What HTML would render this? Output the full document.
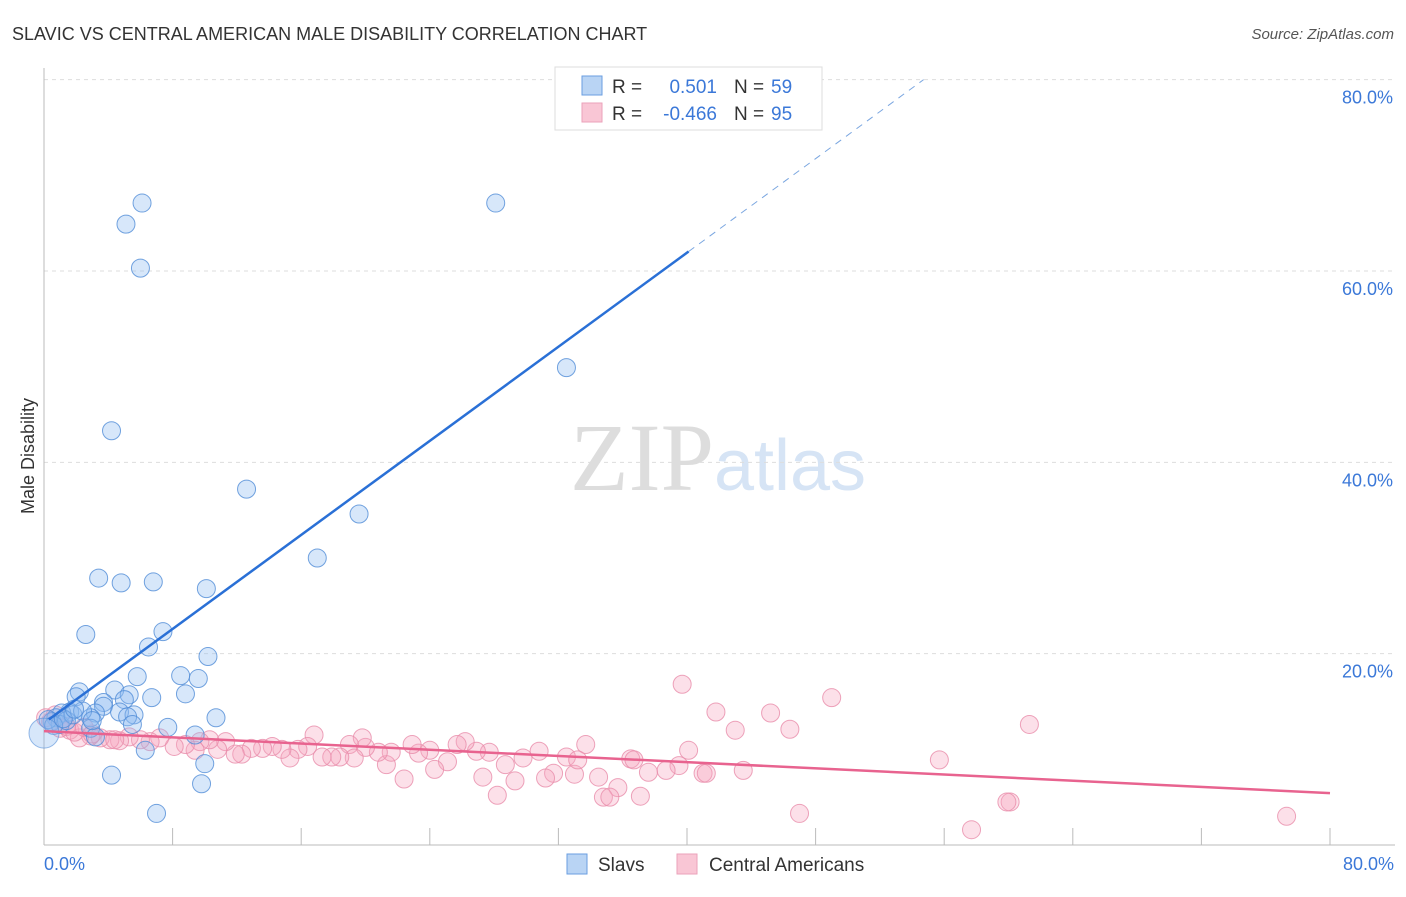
<!DOCTYPE html>
<html><head><meta charset="utf-8"><style>
body{margin:0;background:#fff;font-family:"Liberation Sans",sans-serif}
svg text{font-family:"Liberation Sans",sans-serif}
</style></head><body>
<svg width="1406" height="892" xmlns="http://www.w3.org/2000/svg">
<text x="12" y="40" font-size="18" fill="#333">SLAVIC VS CENTRAL AMERICAN MALE DISABILITY CORRELATION CHART</text>
<text x="1394" y="39" font-size="15" fill="#555" font-style="italic" text-anchor="end">Source: ZipAtlas.com</text>
<text x="718" y="490" font-size="96" fill="#e4e4e4" text-anchor="middle" font-family="Liberation Serif"><tspan font-family="Liberation Serif" fill="#ddd">ZIP</tspan><tspan font-family="Liberation Sans" fill="#d6e4f5" font-size="72">atlas</tspan></text>
<g id="grid"></g>
<g id="axes"></g>
<g id="pts"></g>
<g id="lines"></g>
<text transform="translate(34,456) rotate(-90)" font-size="18" fill="#333" text-anchor="middle">Male Disability</text>
<text x="44" y="870" font-size="18" fill="#3b78d8">0.0%</text>
<text x="1394" y="870" font-size="18" fill="#3b78d8" text-anchor="end">80.0%</text>
<g>
<rect x="555" y="67" width="267" height="63" fill="#fff" stroke="#ddd"/>
<rect x="582" y="76" width="20" height="19" fill="#b9d4f4" stroke="#6a9ee0"/>
<rect x="582" y="103" width="20" height="19" fill="#f9c6d5" stroke="#eba2ba"/>
<text x="612" y="93" font-size="19" fill="#333">R = </text><text x="717" y="93" font-size="19" fill="#3b78d8" text-anchor="end">0.501</text>
<text x="734" y="93" font-size="19" fill="#333">N = </text><text x="771" y="93" font-size="19" fill="#3b78d8">59</text>
<text x="612" y="120" font-size="19" fill="#333">R = </text><text x="717" y="120" font-size="19" fill="#3b78d8" text-anchor="end">-0.466</text>
<text x="734" y="120" font-size="19" fill="#333">N = </text><text x="771" y="120" font-size="19" fill="#3b78d8">95</text>
</g>
<g>
<rect x="567" y="854" width="20" height="20" fill="#b9d4f4" stroke="#6a9ee0"/>
<text x="598" y="871" font-size="19" fill="#333">Slavs</text>
<rect x="677" y="854" width="20" height="20" fill="#f9c6d5" stroke="#eba2ba"/>
<text x="709" y="871" font-size="19" fill="#333">Central Americans</text>
</g>
</svg>
<script>
const yTicks=[20,40,60,80];
const yTickLabels=["20.0%","40.0%","60.0%","80.0%"];
const xTicks=[8,16,24,32,40,48,56,64,72,80];
const slavX=[6.1,5.1,6.0,28.1,32.5,4.2,12.6,19.6,17.0,3.4,4.8,6.8,10.1,2.6,7.4,6.5,10.2,5.8,8.5,9.6,4.4,5.3,8.8,6.7,2.2,2.0,3.7,5.0,3.7,3.2,4.7,5.6,5.2,2.9,1.6,1.1,0.75,0.5,1.0,7.7,10.7,5.5,2.9,9.4,3.2,6.3,10.0,4.2,9.8,7.0,1.4,1.8,0.25,0.6,1.2,2.4,3.0,1.9];
const slavY=[67.1,64.9,60.3,67.1,49.9,43.3,37.2,34.6,30.0,27.9,27.4,27.5,26.8,22.0,22.3,20.7,19.7,17.6,17.7,17.4,16.2,15.7,15.8,15.4,16.0,15.5,14.9,15.2,14.5,13.8,13.9,13.6,13.4,13.3,13.9,13.8,13.3,12.9,12.6,12.3,13.3,12.6,12.2,11.5,11.3,9.9,8.5,7.3,6.4,3.3,13.0,13.6,13.1,12.5,13.2,14.0,13.0,14.2];
const camX=[39.7,49.0,41.8,45.2,61.3,43.0,46.4,55.7,60.1,59.9,47.0,57.7,77.3,40.1,39.5,41.0,41.2,43.5,38.7,37.6,36.5,36.7,35.7,37.1,34.8,35.2,34.5,33.0,32.5,33.7,33.2,31.7,31.2,30.8,29.8,28.7,29.3,28.2,27.3,27.7,26.9,26.2,25.7,25.1,24.3,24.0,23.3,22.9,22.4,21.3,21.6,20.8,20.0,19.8,19.0,19.3,18.4,17.9,17.3,16.8,16.4,15.8,15.3,14.8,14.2,13.6,12.9,12.3,11.9,11.3,10.8,10.3,9.7,9.4,8.8,8.1,7.2,6.6,6.0,5.3,4.7,4.1,3.5,2.9,2.2,1.6,1.0,0.4,0.7,1.4,0.1,1.9,2.5,3.0,4.4];
const camY=[16.8,15.4,13.9,13.8,12.6,12.0,12.1,8.9,4.5,4.5,3.3,1.6,3.0,9.9,8.3,7.5,7.5,7.8,7.8,7.6,9.0,8.9,6.0,5.1,5.0,5.0,7.1,7.4,9.2,10.5,8.9,7.5,7.0,9.8,9.1,8.4,6.7,5.2,7.1,9.7,9.8,10.8,10.5,8.7,7.9,9.9,9.6,10.5,6.9,8.4,9.7,9.7,10.2,11.2,10.5,9.1,9.2,9.2,9.2,11.5,10.3,10.0,9.1,10.0,10.3,10.1,10.1,9.5,9.5,10.8,10.0,11.0,10.8,9.9,10.5,10.3,11.2,10.8,11.0,11.3,10.9,11.0,11.2,11.4,11.2,12.0,12.2,12.9,13.6,12.4,13.3,11.8,12.3,11.6,11.0];
const slavFit=[12.75,1.229];
const camFit=[11.9,-0.081];
const NS="http://www.w3.org/2000/svg";
const X=v=>44+v*16.075, Y=v=>845-v*9.567;
function mk(t,a,p){const e=document.createElementNS(NS,t);for(const k in a)e.setAttribute(k,a[k]);p.appendChild(e);return e;}
const grid=document.getElementById('grid'),axes=document.getElementById('axes'),pts=document.getElementById('pts'),lines=document.getElementById('lines');
yTicks.forEach((t,i)=>{
 const l=mk('line',{x1:44,x2:1395,y1:Y(t),y2:Y(t),stroke:'#ddd','stroke-dasharray':'4,4'},grid);
 
 
 const tx=mk('text',{x:1393,y:Y(t)+24,'font-size':18,fill:'#3b78d8','text-anchor':'end'},grid);
 tx.textContent=yTickLabels[i];
 
 
});
const ax=mk('line',{x1:44,x2:44,y1:68,y2:845,stroke:'#bbb'},axes);


const bx=mk('line',{x1:44,x2:1395,y1:845,y2:845,stroke:'#bbb'},axes);


xTicks.forEach(t=>{
 const l=mk('line',{x1:X(t),x2:X(t),y1:828,y2:845,stroke:'#bbb'},axes);
 
 
});
camX.forEach((v,i)=>{
 const c=mk('circle',{cx:X(v),cy:Y(camY[i]),r:9,fill:'rgba(245,165,192,0.35)',stroke:'rgba(232,140,170,0.8)','stroke-width':1},pts);
 
 
});
slavX.forEach((v,i)=>{
 const c=mk('circle',{cx:X(v),cy:Y(slavY[i]),r:9,fill:'rgba(140,185,240,0.35)',stroke:'rgba(80,140,215,0.8)','stroke-width':1},pts);
 
 
});
const big=mk('circle',{cx:X(0),cy:Y(11.7),r:15,fill:'rgba(140,185,240,0.35)',stroke:'rgba(80,140,215,0.6)'},pts);


const sx2=40.1, sx3=(80-slavFit[0])/slavFit[1];
const bl=mk('line',{x1:X(0.3),y1:Y(slavFit[0]+slavFit[1]*0.3),x2:X(sx2),y2:Y(slavFit[0]+slavFit[1]*sx2),stroke:'#2a70d6','stroke-width':2.5},lines);


const bd=mk('line',{x1:X(sx2),y1:Y(slavFit[0]+slavFit[1]*sx2),x2:X(sx3),y2:Y(80),stroke:'#7aa6e0','stroke-width':1,'stroke-dasharray':'7,6'},lines);


const pl=mk('line',{x1:X(0),y1:Y(camFit[0]),x2:X(80),y2:Y(camFit[0]+camFit[1]*80),stroke:'#e8638f','stroke-width':2.5},lines);


</script>
</body></html>
